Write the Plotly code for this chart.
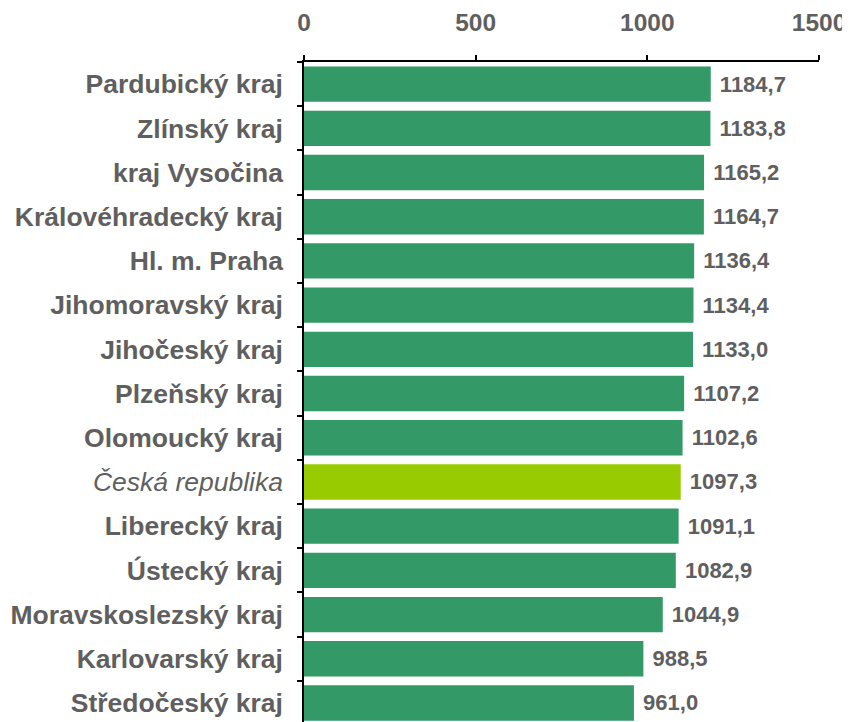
import plotly.graph_objects as go

categories = ["Pardubický kraj", "Zlínský kraj", "kraj Vysočina", "Královéhradecký kraj",
              "Hl. m. Praha", "Jihomoravský kraj", "Jihočeský kraj", "Plzeňský kraj",
              "Olomoucký kraj", "Česká republika", "Liberecký kraj", "Ústecký kraj",
              "Moravskoslezský kraj", "Karlovarský kraj", "Středočeský kraj"]
values = [1184.7, 1183.8, 1165.2, 1164.7, 1136.4, 1134.4, 1133.0, 1107.2,
          1102.6, 1097.3, 1091.1, 1082.9, 1044.9, 988.5, 961.0]
highlight = "Česká republika"
x_ticks = [0, 500, 1000, 1500]

colors = ["#99CC00" if c == highlight else "#339966" for c in categories]
labels = [" " + f"{v:.1f}".replace(".", ",") for v in values]
ticktext = [f"<i>{c}</i>" if c == highlight else f"<b>{c}</b>" for c in categories]

fig = go.Figure(go.Bar(
    x=values, y=categories, orientation="h",
    marker=dict(color=colors, line=dict(width=0)),
    text=labels, textposition="outside", cliponaxis=False,
    textfont=dict(family="Liberation Sans", size=22, color="#5f5f5f", weight="bold"),
    hoverinfo="skip",
))

fig.update_layout(
    width=842, height=714,
    margin=dict(l=296, r=31, t=54, b=0, autoexpand=False),
    plot_bgcolor="white", paper_bgcolor="white",
    bargap=0.2, showlegend=False,
    font=dict(family="Liberation Sans", color="#5f5f5f"),
)
fig.update_xaxes(
    side="top", range=[0, 1500], tickvals=x_ticks, showgrid=False, zeroline=False,
    showline=True, linecolor="black", linewidth=1.5,
    ticks="outside", ticklen=5, tickcolor="black", tickwidth=1.5,
    tickfont=dict(family="Liberation Sans", size=24.5, color="#5f5f5f", weight="bold"),
    ticklabelstandoff=14, automargin=False,
)
fig.update_yaxes(
    categoryorder="array", categoryarray=categories, range=[14.43, -0.5],
    tickvals=categories, ticktext=ticktext,
    tickson="boundaries", ticks="outside", ticklen=5, tickcolor="black", tickwidth=1.5,
    showline=True, linecolor="black", linewidth=1.5, showgrid=False,
    tickfont=dict(family="Liberation Sans", size=26.5, color="#5f5f5f"),
    ticklabelstandoff=14, automargin=False,
)

fig.write_html("out.html")
